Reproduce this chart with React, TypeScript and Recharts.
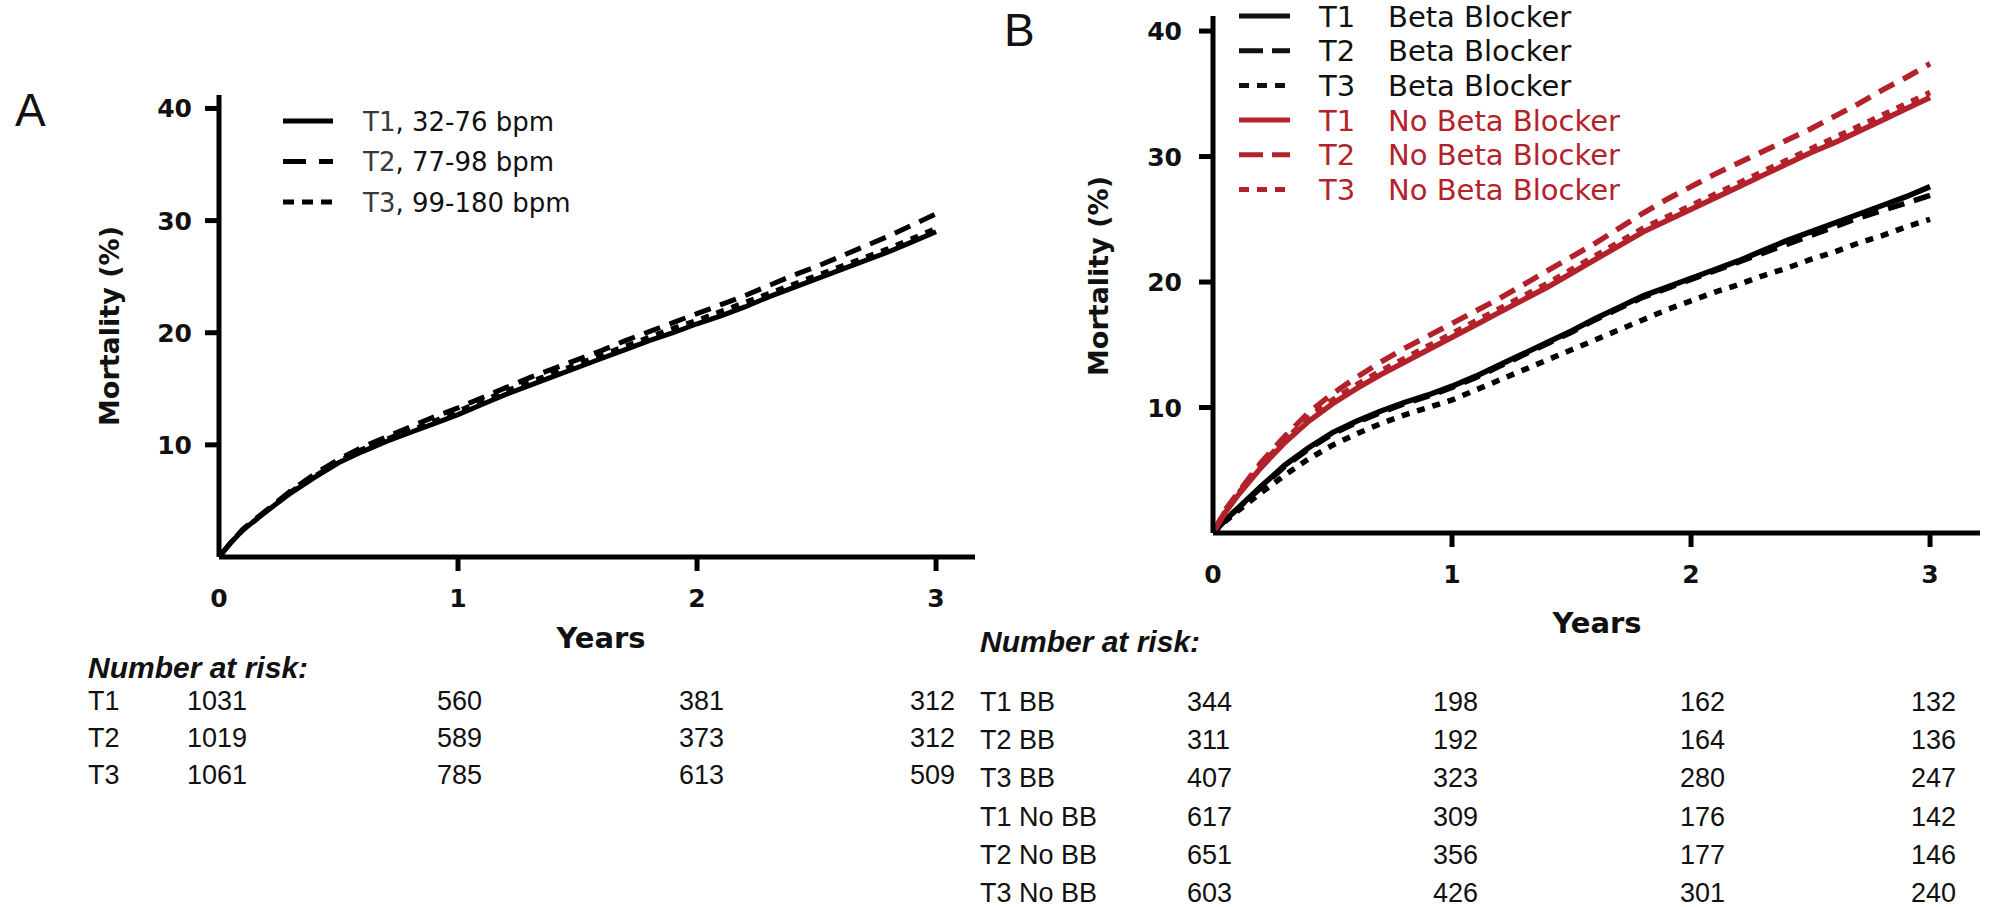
import React from 'react';
import { LineChart, Line, XAxis, YAxis, Legend } from 'recharts';

// follow-up time points (years)
const YEARS = [0, 0.05, 0.1, 0.2, 0.3, 0.4, 0.5, 0.6, 0.7, 0.8, 0.9, 1, 1.1, 1.2, 1.3, 1.4, 1.5, 1.6, 1.7, 1.8, 1.9, 2, 2.1, 2.2, 2.3, 2.4, 2.5, 2.6, 2.7, 2.8, 2.9, 3];

// panel A: cumulative mortality (%) per heart-rate tertile
const A_T1 = [0, 1.3, 2.4, 4.1, 5.7, 7.1, 8.4, 9.4, 10.3, 11.1, 11.9, 12.7, 13.6, 14.5, 15.3, 16.1, 16.9, 17.7, 18.5, 19.3, 20.0, 20.8, 21.5, 22.3, 23.2, 24.0, 24.8, 25.6, 26.4, 27.2, 28.1, 29.0];
const A_T2 = [0, 1.3, 2.5, 4.2, 5.9, 7.4, 8.7, 9.8, 10.7, 11.6, 12.5, 13.3, 14.2, 15.1, 16.0, 16.8, 17.6, 18.4, 19.3, 20.1, 20.9, 21.7, 22.5, 23.3, 24.2, 25.1, 25.9, 26.8, 27.7, 28.6, 29.6, 30.6];
const A_T3 = [0, 1.3, 2.4, 4.1, 5.8, 7.2, 8.5, 9.6, 10.5, 11.3, 12.1, 13.0, 13.9, 14.8, 15.6, 16.4, 17.2, 18.0, 18.8, 19.6, 20.4, 21.1, 21.9, 22.7, 23.5, 24.3, 25.1, 25.9, 26.7, 27.5, 28.4, 29.3];

// panel B: split by beta blocker use
const B_BB_T1 = [0, 1.0, 1.9, 3.7, 5.4, 6.8, 8.0, 8.9, 9.7, 10.4, 11.0, 11.7, 12.5, 13.4, 14.3, 15.2, 16.1, 17.1, 18.0, 18.9, 19.6, 20.3, 21.0, 21.7, 22.5, 23.3, 24.0, 24.7, 25.4, 26.1, 26.8, 27.6];
const B_BB_T2 = [0, 1.0, 1.9, 3.6, 5.3, 6.7, 7.9, 8.8, 9.6, 10.3, 10.9, 11.6, 12.4, 13.3, 14.2, 15.1, 16.0, 17.0, 17.9, 18.8, 19.5, 20.2, 20.9, 21.6, 22.3, 23.0, 23.7, 24.4, 25.1, 25.7, 26.3, 26.9];
const B_BB_T3 = [0, 0.9, 1.7, 3.2, 4.6, 5.9, 7.0, 7.9, 8.7, 9.4, 10.0, 10.6, 11.4, 12.2, 13.0, 13.8, 14.6, 15.4, 16.2, 17.0, 17.8, 18.5, 19.2, 19.8, 20.5, 21.1, 21.8, 22.4, 23.1, 23.7, 24.4, 25.0];
const B_NO_T1 = [0, 1.6, 2.9, 5.2, 7.2, 8.9, 10.3, 11.5, 12.6, 13.6, 14.6, 15.6, 16.6, 17.6, 18.6, 19.6, 20.7, 21.8, 22.9, 24.0, 24.9, 25.8, 26.7, 27.6, 28.5, 29.4, 30.3, 31.1, 32.0, 32.9, 33.8, 34.7];
const B_NO_T2 = [0, 1.8, 3.1, 5.6, 7.7, 9.6, 11.1, 12.4, 13.6, 14.7, 15.7, 16.7, 17.7, 18.7, 19.8, 20.9, 22.0, 23.1, 24.3, 25.5, 26.6, 27.6, 28.6, 29.5, 30.4, 31.3, 32.2, 33.2, 34.2, 35.3, 36.3, 37.4];
const B_NO_T3 = [0, 1.7, 3.0, 5.4, 7.4, 9.2, 10.6, 11.8, 12.9, 13.9, 14.9, 15.9, 16.9, 17.9, 18.9, 19.9, 21.0, 22.1, 23.2, 24.3, 25.2, 26.1, 27.0, 27.9, 28.8, 29.7, 30.6, 31.5, 32.4, 33.3, 34.2, 35.1];

const X_TICKS = [0, 1, 2, 3];
const Y_TICKS = [10, 20, 30, 40];

const LEGEND_A_GROUPS = ['T1', 'T2', 'T3'];
const LEGEND_A_RANGES = [', 32-76 bpm', ', 77-98 bpm', ', 99-180 bpm'];
const LEGEND_B_GROUPS = ['T1', 'T2', 'T3', 'T1', 'T2', 'T3'];
const LEGEND_B_LABELS = ['Beta Blocker', 'Beta Blocker', 'Beta Blocker', 'No Beta Blocker', 'No Beta Blocker', 'No Beta Blocker'];

// number at risk at 0, 1, 2, 3 years
const RISK_A_LABELS = ['T1', 'T2', 'T3'];
const RISK_A_T1 = [1031, 560, 381, 312];
const RISK_A_T2 = [1019, 589, 373, 312];
const RISK_A_T3 = [1061, 785, 613, 509];
const RISK_B_LABELS = ['T1 BB', 'T2 BB', 'T3 BB', 'T1 No BB', 'T2 No BB', 'T3 No BB'];
const RISK_B_T1_BB = [344, 198, 162, 132];
const RISK_B_T2_BB = [311, 192, 164, 136];
const RISK_B_T3_BB = [407, 323, 280, 247];
const RISK_B_T1_NO = [617, 309, 176, 142];
const RISK_B_T2_NO = [651, 356, 177, 146];
const RISK_B_T3_NO = [603, 426, 301, 240];

const RED = '#b3222a';
const INK = '#111';
const DASH = '17 10';
const DOT = '8 8';
const STYLES_A = [undefined, DASH, DOT];
const STYLES_B = [undefined, DASH, DOT, undefined, DASH, DOT];
const COLORS_B = [INK, INK, INK, RED, RED, RED];
const CHART_FONT = '"DejaVu Sans", Verdana, sans-serif';
const TABLE_FONT = '"Liberation Sans", Arial, sans-serif';
const AXIS_LINE = { stroke: '#000', strokeWidth: 5 };

const dataA = YEARS.map((t, i) => ({ t, t1: A_T1[i], t2: A_T2[i], t3: A_T3[i] }));
const dataB = YEARS.map((t, i) => ({
  t,
  bb1: B_BB_T1[i], bb2: B_BB_T2[i], bb3: B_BB_T3[i],
  no1: B_NO_T1[i], no2: B_NO_T2[i], no3: B_NO_T3[i],
}));

const XTick = (props: any) => {
  const { x, y, payload, labelDy } = props;
  return (
    <g>
      {payload.value !== 0 && <line x1={x} y1={y} x2={x} y2={y + 14} stroke="#000" strokeWidth={5} />}
      <text x={x} y={y + labelDy} textAnchor="middle" fontFamily={CHART_FONT} fontWeight="bold" fontSize={25} fill={INK}>
        {payload.value}
      </text>
    </g>
  );
};

const YTick = (props: any) => {
  const { x, y, payload, labelDx } = props;
  return (
    <g>
      <line x1={x - 14} y1={y} x2={x} y2={y} stroke="#000" strokeWidth={5} />
      <text x={x - labelDx} y={y + 9} textAnchor="end" fontFamily={CHART_FONT} fontWeight="bold" fontSize={25} fill={INK}>
        {payload.value}
      </text>
    </g>
  );
};

const yTitle = (cx: number, cy: number) => () => (
  <text x={cx} y={cy + 10} transform={`rotate(-90 ${cx} ${cy})`} textAnchor="middle" fontFamily={CHART_FONT} fontWeight="bold" fontSize={27} fill={INK}>
    Mortality (%)
  </text>
);

const xTitle = (cx: number, baseline: number) => () => (
  <text x={cx} y={baseline} textAnchor="middle" fontFamily={CHART_FONT} fontWeight="bold" fontSize={29} fill={INK}>
    Years
  </text>
);

const LegendA = () => (
  <svg width={330} height={130}>
    {LEGEND_A_GROUPS.map((g, i) => {
      const cy = 21 + i * 40.5;
      return (
        <g key={g}>
          <line x1={0} x2={50} y1={cy} y2={cy} stroke="#000" strokeWidth={5} strokeDasharray={i === 1 ? '23 13' : i === 2 ? '11 8' : undefined} />
          <text x={80} y={cy + 9.5} fontFamily={CHART_FONT} fontSize={26} fill={INK}>
            <tspan fill="#3a3a3a">{g}</tspan>
            {LEGEND_A_RANGES[i]}
          </text>
        </g>
      );
    })}
  </svg>
);

const LegendB = () => (
  <svg width={420} height={225} style={{ display: 'block' }}>
    {LEGEND_B_GROUPS.map((g, i) => {
      const cy = 16 + i * 34.7;
      return (
        <g key={i}>
          <line x1={0} x2={51} y1={cy} y2={cy} stroke={COLORS_B[i]} strokeWidth={5} strokeDasharray={STYLES_B[i] === DASH ? '24 9' : STYLES_B[i] === DOT ? '10 8' : undefined} />
          <text x={80} y={cy + 10.5} fontFamily={CHART_FONT} fontSize={29} fill={COLORS_B[i]}>{g}</text>
          <text x={149} y={cy + 10.5} fontFamily={CHART_FONT} fontSize={29} fill={COLORS_B[i]}>{LEGEND_B_LABELS[i]}</text>
        </g>
      );
    })}
  </svg>
);

const RiskTable = ({ left, titleY, labels, rows, rowY, cols }: any) => (
  <div style={{ position: 'absolute', left: 0, top: 0, fontFamily: TABLE_FONT, color: INK }}>
    <div style={{ position: 'absolute', left, top: titleY - 15, fontSize: 30, lineHeight: 1, fontWeight: 'bold', fontStyle: 'italic', whiteSpace: 'nowrap' }}>
      Number at risk:
    </div>
    {labels.map((lab: string, r: number) => (
      <React.Fragment key={lab}>
        <div style={{ position: 'absolute', left, top: rowY[r] - 13, fontSize: 27, lineHeight: 1, whiteSpace: 'nowrap' }}>{lab}</div>
        {rows[r].map((v: number, c: number) => (
          <div key={c} style={{ position: 'absolute', left: cols[c], top: rowY[r] - 13, fontSize: 27, lineHeight: 1 }}>{v}</div>
        ))}
      </React.Fragment>
    ))}
  </div>
);

export default function App() {
  return (
    <div style={{ position: 'absolute', left: 0, top: 0, width: 1989, height: 907, background: '#fff', overflow: 'hidden' }}>
      <div style={{ position: 'absolute', left: 15, top: 87, fontFamily: TABLE_FONT, fontSize: 46, lineHeight: 1, color: INK }}>A</div>
      <div style={{ position: 'absolute', left: 1004, top: 7, fontFamily: TABLE_FONT, fontSize: 46, lineHeight: 1, color: INK }}>B</div>

      <div style={{ position: 'absolute', left: 0, top: 0 }}>
        <LineChart width={1000} height={700} data={dataA} margin={{ top: 95, right: 25, bottom: 83, left: 119 }}>
          <XAxis dataKey="t" type="number" domain={[0, 3.163]} allowDataOverflow ticks={X_TICKS} interval={0} height={60}
            tickSize={0} tickMargin={0} tickLine={false} axisLine={AXIS_LINE}
            tick={(p: any) => <XTick {...p} labelDy={50} />} label={xTitle(601, 648)} />
          <YAxis type="number" domain={[0, 41.2]} allowDataOverflow ticks={Y_TICKS} interval={0} width={100}
            tickSize={0} tickMargin={0} tickLine={false} axisLine={AXIS_LINE}
            tick={(p: any) => <YTick {...p} labelDx={27} />} label={yTitle(109, 326)} />
          <Legend layout="vertical" align="center" verticalAlign="middle" content={() => <LegendA />}
            wrapperStyle={{ left: 283, top: 100, width: 330, height: 130 }} />
          {['t1', 't2', 't3'].map((k, i) => (
            <Line key={k} dataKey={k} type="linear" stroke="#000" strokeWidth={5} strokeDasharray={STYLES_A[i]} dot={false} isAnimationActive={false} />
          ))}
        </LineChart>
      </div>

      <div style={{ position: 'absolute', left: 1000, top: 0 }}>
        <LineChart width={989} height={700} data={dataB} margin={{ top: 16, right: 9, bottom: 107, left: 113 }}>
          <XAxis dataKey="t" type="number" domain={[0, 3.209]} allowDataOverflow ticks={X_TICKS} interval={0} height={60}
            tickSize={0} tickMargin={0} tickLine={false} axisLine={AXIS_LINE}
            tick={(p: any) => <XTick {...p} labelDy={50} />} label={xTitle(597, 633)} />
          <YAxis type="number" domain={[0, 41.2]} allowDataOverflow ticks={Y_TICKS} interval={0} width={100}
            tickSize={0} tickMargin={0} tickLine={false} axisLine={AXIS_LINE}
            tick={(p: any) => <YTick {...p} labelDx={31} />} label={yTitle(98, 276)} />
          <Legend layout="vertical" align="center" verticalAlign="middle" content={() => <LegendB />}
            wrapperStyle={{ left: 239, top: 0, width: 420, height: 225 }} />
          {['bb1', 'bb2', 'bb3', 'no1', 'no2', 'no3'].map((k, i) => (
            <Line key={k} dataKey={k} type="linear" stroke={COLORS_B[i] === RED ? RED : '#000'} strokeWidth={5.5} strokeDasharray={STYLES_B[i]} dot={false} isAnimationActive={false} />
          ))}
        </LineChart>
      </div>

      <RiskTable left={88} titleY={668} labels={RISK_A_LABELS} rows={[RISK_A_T1, RISK_A_T2, RISK_A_T3]}
        rowY={[701, 738, 775]} cols={[187, 437, 679, 910]} />
      <RiskTable left={980} titleY={642} labels={RISK_B_LABELS}
        rows={[RISK_B_T1_BB, RISK_B_T2_BB, RISK_B_T3_BB, RISK_B_T1_NO, RISK_B_T2_NO, RISK_B_T3_NO]}
        rowY={[702, 740, 778, 817, 855, 893]} cols={[1187, 1433, 1680, 1911]} />
    </div>
  );
}
